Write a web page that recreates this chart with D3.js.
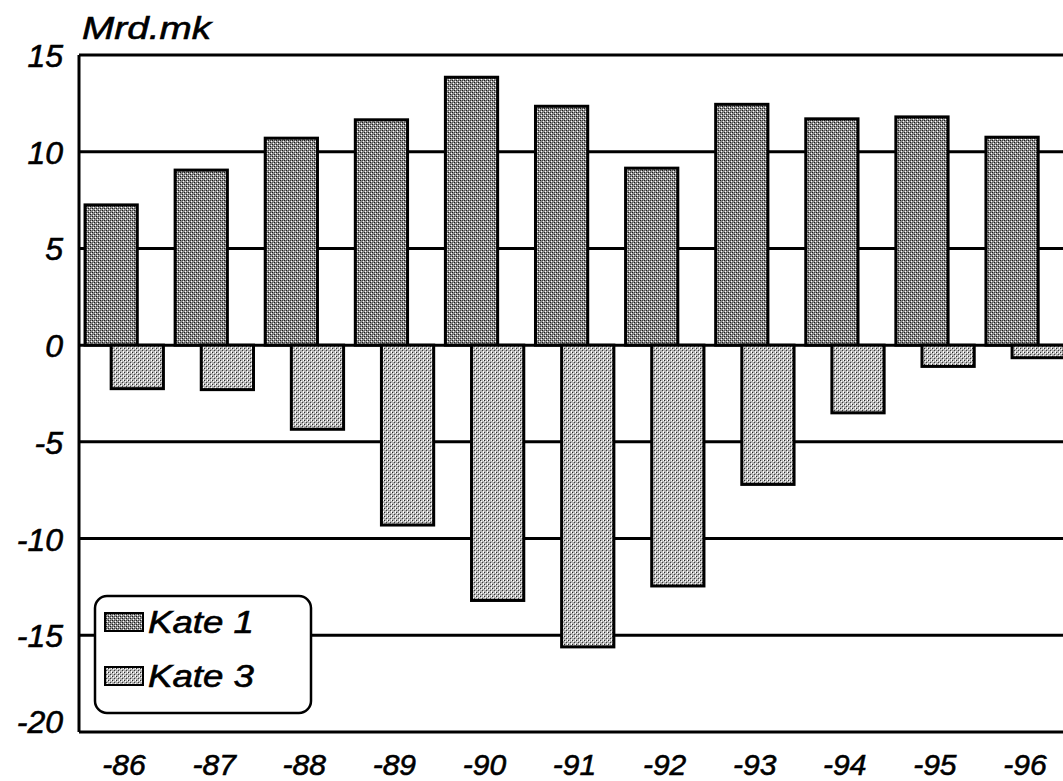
<!DOCTYPE html>
<html>
<head>
<meta charset="utf-8">
<script src="https://cdn.jsdelivr.net/npm/d3@7"></script>
<style>
  body { margin: 0; background: #fff; }
  svg text { font-family: "Liberation Sans", Arial, sans-serif; font-style: italic; fill: #000; stroke: #000; stroke-width: 0.6px; }
</style>
</head>
<body>
<script>
// chart values
const years = ["-86", "-87", "-88", "-89", "-90", "-91", "-92", "-93", "-94", "-95", "-96"];
const kate1 = [7.25, 9.05, 10.7, 11.65, 13.85, 12.35, 9.15, 12.45, 11.7, 11.8, 10.75];
const kate3 = [-2.25, -2.3, -4.35, -9.3, -13.2, -15.6, -12.45, -7.2, -3.5, -1.1, -0.65];
const seriesNames = ["Kate 1", "Kate 3"];
const yTicks = [15, 10, 5, 0, -5, -10, -15, -20];
const unitLabel = "Mrd.mk";

function drawChart() {
    let width = 1063,
        height = 781,
        left = 79,
        top = 55,
        bottom = 732,
        right = 1070;

    const svg = d3.select("body")
        .append("svg")
        .attr("width", width)
        .attr("height", height);

    // stipple patterns for the two series
    const defs = svg.append("defs");
    function stipple(id, base, dots) {
        const p = defs.append("pattern")
            .attr("id", id)
            .attr("patternUnits", "userSpaceOnUse")
            .attr("width", 4)
            .attr("height", 4);
        p.append("rect").attr("width", 4).attr("height", 4).attr("fill", base);
        dots.forEach(d => {
            p.append("rect")
                .attr("x", d[0]).attr("y", d[1])
                .attr("width", 1).attr("height", 1)
                .attr("fill", d[2]);
        });
    }
    stipple("pat1", "#909090", [[0, 0, "#1a1a1a"], [2, 2, "#1a1a1a"], [1, 3, "#fff"], [3, 1, "#fff"], [2, 0, "#444"], [0, 2, "#555"]]);
    stipple("pat3", "#b4b4b4", [[0, 0, "#2a2a2a"], [2, 2, "#3a3a3a"], [1, 1, "#fff"], [3, 3, "#fff"], [3, 0, "#fff"]]);

    const y = d3.scaleLinear()
        .domain([-20, 15])
        .range([bottom, top]);

    const x = d3.scaleBand()
        .domain(years)
        .range([left, right])
        .paddingInner(0);

    const bw = x.bandwidth();
    const barW = bw * 0.58;
    const offset = i => bw * 0.067 + i * bw * 0.29;

    // grid lines
    svg.append("g")
        .selectAll("line")
        .data(yTicks)
        .enter()
        .append("line")
        .attr("x1", left)
        .attr("x2", width)
        .attr("y1", d => y(d))
        .attr("y2", d => y(d))
        .attr("stroke", "#000")
        .attr("stroke-width", 3);

    // bars
    const series = [kate1, kate3];
    const fills = ["url(#pat1)", "url(#pat3)"];
    series.forEach((vals, i) => {
        svg.append("g")
            .selectAll("rect")
            .data(vals)
            .enter()
            .append("rect")
            .attr("x", (d, j) => x(years[j]) + offset(i))
            .attr("width", barW)
            .attr("y", d => y(Math.max(0, d)))
            .attr("height", d => Math.abs(y(d) - y(0)))
            .attr("fill", fills[i])
            .attr("stroke", "#000")
            .attr("stroke-width", 3);
    });

    // left frame line
    svg.append("line")
        .attr("x1", left).attr("x2", left)
        .attr("y1", top).attr("y2", bottom)
        .attr("stroke", "#000")
        .attr("stroke-width", 3);

    // y axis labels
    const yAxis = d3.axisLeft(y)
        .tickValues(yTicks)
        .tickSize(0)
        .tickPadding(16)
        .tickFormat(d3.format("d"));
    const ya = svg.append("g")
        .attr("transform", `translate(${left},0)`)
        .call(yAxis);
    ya.select(".domain").remove();
    ya.selectAll("text")
        .attr("font-size", 32)
        .attr("font-family", null)
        .attr("dy", d => d === -20 ? "0.0em" : "0.36em")
        .text(d => d < 0 ? "-" + Math.abs(d) : d);

    // x axis labels
    const xAxis = d3.axisBottom(x).tickSize(0).tickPadding(0);
    const xa = svg.append("g")
        .attr("transform", `translate(0,${bottom})`)
        .call(xAxis);
    xa.select(".domain").remove();
    xa.selectAll("text")
        .attr("font-size", 30)
        .attr("font-family", null)
        .attr("dy", null)
        .attr("y", 43);

    // unit label
    svg.append("text")
        .attr("x", 82)
        .attr("y", 39)
        .attr("font-size", 32)
        .attr("textLength", 129)
        .attr("lengthAdjust", "spacingAndGlyphs")
        .text(unitLabel);

    // legend
    const lg = svg.append("g");
    lg.append("rect")
        .attr("x", 95).attr("y", 596)
        .attr("width", 216).attr("height", 117)
        .attr("rx", 12).attr("ry", 12)
        .attr("fill", "#fff")
        .attr("stroke", "#000")
        .attr("stroke-width", 2.5);
    seriesNames.forEach((name, i) => {
        const yy = 613 + i * 54;
        lg.append("rect")
            .attr("x", 105).attr("y", yy)
            .attr("width", 38).attr("height", 18)
            .attr("fill", fills[i])
            .attr("stroke", "#000")
            .attr("stroke-width", 2);
        lg.append("text")
            .attr("x", 148)
            .attr("y", yy + 20)
            .attr("font-size", 31)
            .attr("textLength", 106)
            .attr("lengthAdjust", "spacingAndGlyphs")
            .text(name);
    });
}

document.addEventListener("DOMContentLoaded", function (e) {
    drawChart();
});
</script>
</body>
</html>
